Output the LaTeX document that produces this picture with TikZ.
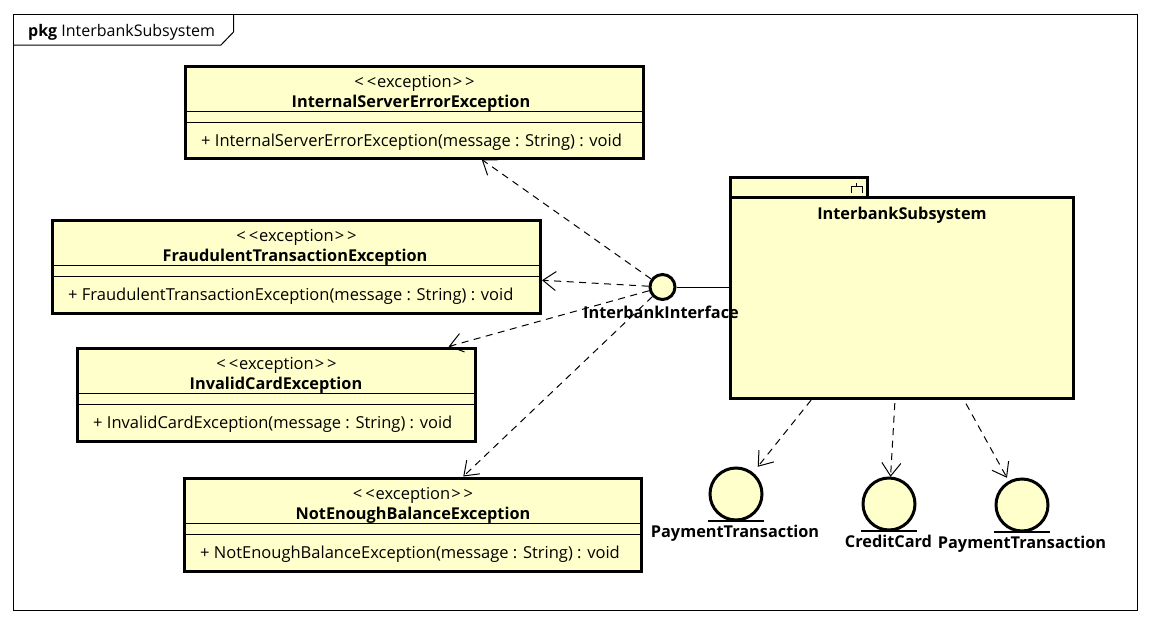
\documentclass[tikz,border=0pt]{standalone}
\usepackage{fontspec}
\setmainfont{Open Sans}
\usetikzlibrary{arrows.meta,calc}
\definecolor{umlfill}{HTML}{FFFFCC}
\newcommand{\fs}{\fontsize{16.5}{19}\selectfont}
\newcommand{\fb}{\fontsize{16.3}{19}\selectfont\bfseries}
\newcommand{\fp}{\fontsize{16}{19}\selectfont}
\newcommand{\stereo}{{<}\kern3pt{<}\kern1pt exception\kern1pt{>}\kern3pt{>}}
\tikzset{
  classbox/.style={draw=black,fill=umlfill,line width=3pt,inner sep=0pt,rectangle},
  compline/.style={draw=black,line width=1pt},
  txt/.style={inner sep=0pt,text=black,font=\fs},
  btxt/.style={inner sep=0pt,text=black,font=\fb},
  optxt/.style={inner sep=0pt,text=black,font=\fs,anchor=west},
  dep/.style={draw=black,line width=1pt,dash pattern=on 7pt off 5.5pt,-{Straight Barb[length=13pt,width=19pt,line width=1pt]}},
  ball/.style={circle,draw=black,fill=umlfill,line width=3pt,inner sep=0pt,minimum size=25pt},
  entcircle/.style={circle,draw=black,fill=umlfill,line width=3pt,inner sep=0pt,minimum size=52pt},
  entbox/.style={rectangle,inner sep=0pt,minimum width=56pt,minimum height=54pt},
}
\begin{document}
\begin{tikzpicture}[x=1pt,y=-1pt]
\useasboundingbox (0,0) rectangle (1152,624);
\fill[white] (0,0) rectangle (1152,624);
% frame
\node[draw=black,line width=1pt,minimum width=1124pt,minimum height=596pt,inner sep=0pt] (frame) at (575.5,312) {};
\draw[black,line width=1pt] (233.5,14) -- (233.5,32) -- (221,45) -- (13.5,45);
\node[inner sep=0pt,text=black,font=\fp,anchor=base west] (pkg) at (28,36) {\textbf{pkg} InterbankSubsystem};
% classes
\node[classbox,minimum width=458pt,minimum height=92pt] (A) at (414.5,112) {};
\node[classbox,minimum width=488pt,minimum height=93pt] (B) at (296.5,266.5) {};
\node[classbox,minimum width=398pt,minimum height=93pt] (C) at (276.5,394.5) {};
\node[classbox,minimum width=457pt,minimum height=93pt] (D) at (413,524.5) {};
\foreach \n in {A,B,C,D}{
  \draw[compline] ($(\n.north west)+(0,47)$) -- ($(\n.north east)+(0,47)$);
  \draw[compline] ($(\n.north west)+(0,58)$) -- ($(\n.north east)+(0,58)$);
  \node[txt] (\n s) at ($(\n.north)+(0,19)$) {\stereo};
}
\node[btxt] (An) at ($(A.north)+(-3.5,38.5)$) {InternalServerErrorException};
\node[btxt] (Bn) at ($(B.north)+(-1.5,38.5)$) {FraudulentTransactionException};
\node[btxt] (Cn) at ($(C.north)+(-0.5,38.5)$) {InvalidCardException};
\node[btxt] (Dn) at ($(D.north)+(0,38.5)$) {NotEnoughBalanceException};
\node[optxt] (Ao) at ($(A.north west)+(17,78)$) {+ InternalServerErrorException(message : String) : void};
\node[optxt] (Bo) at ($(B.north west)+(17,78)$) {+ FraudulentTransactionException(message : String) : void};
\node[optxt] (Co) at ($(C.north west)+(17,78)$) {+ InvalidCardException(message : String) : void};
\node[optxt] (Do) at ($(D.north west)+(17,78)$) {+ NotEnoughBalanceException(message : String) : void};
% package
\node[classbox,minimum width=137pt,minimum height=20pt] (tab) at (798.5,187) {};
\node[classbox,minimum width=343pt,minimum height=201pt] (P) at (901.5,297.5) {};
\coordinate (Pc) at (901.5,287);
\node[btxt] (Pn) at ($(P.north)+(0.5,20)$) {InterbankSubsystem};
\coordinate (g3) at (856.5,183);
\draw[black,line width=0.8pt] (851,192.5) -- (851,186.5) -- (862,186.5) -- (862,192.5) (g3) -- (856.5,186.5);
% interface
\node[ball] (I) at (662.5,287) {};
\draw[black,line width=1pt] (I) -- (P.west |- I);
% entities
\node[entbox] (E1) at (736,494) {};
\node[entbox] (E2) at (889,504) {};
\node[entbox] (E3) at (1022,505) {};
\foreach \n in {E1,E2,E3}{
  \node[entcircle] (\n c) at (\n) {};
  \draw[black,line width=2pt] (\n.south west) -- (\n.south east);
}
\node[btxt] (E1l) at (735,533) {PaymentTransaction};
\node[btxt] (E2l) at (888.5,541) {CreditCard};
\node[btxt] (E3l) at (1022,544) {PaymentTransaction};
% connectors
\draw[dep] (I) -- (A);
\draw[dep] (I) -- (B);
\draw[dep] (I) -- (C);
\draw[dep] (I) -- (D);
\coordinate (s1) at ($(Pc)!0.546!(E1.center)$);
\coordinate (s2) at ($(Pc)!0.535!(E2.center)$);
\coordinate (s3) at ($(Pc)!0.535!(E3.center)$);
\draw[dep] (s1) -- (E1);
\draw[dep] (s2) -- (E2);
\draw[dep] (s3) -- (E3);
\node[btxt] (Il) at (661,312) {InterbankInterface};
\end{tikzpicture}
\end{document}
